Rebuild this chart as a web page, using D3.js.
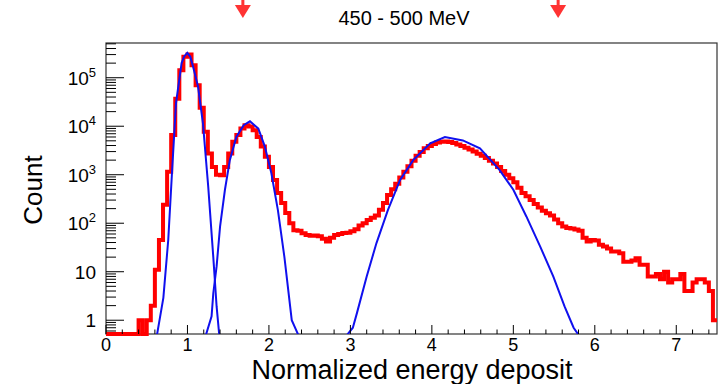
<!DOCTYPE html>
<html>
<head>
<meta charset="utf-8">
<script src="https://cdn.jsdelivr.net/npm/d3@7"></script>
<style>
  body { margin: 0; background: #fff; }
  text { font-family: "Liberation Sans", Arial, sans-serif; fill: #000; }
</style>
</head>
<body>
<script>
// histogram: 150 bins of width 0.05 starting at 0
const binStart = 0;
const binWidth = 0.05;
const counts = [
  0, 0, 0, 0, 0, 0, 0, 0, 1, 0,
  1, 2, 11, 45, 240, 1150, 6600, 37000, 142000, 270000,
  300000, 180000, 70000, 24000, 7700, 2750, 1450, 1000, 980, 1450,
  2750, 4800, 6600, 9000, 10500, 9900, 8300, 6000, 3800, 2350,
  1450, 780, 420, 260, 163, 100, 72, 70, 62, 57,
  55, 56, 54, 48, 42, 50, 57, 60, 63, 64,
  68, 75, 90, 100, 117, 130, 145, 190, 260, 380,
  500, 650, 880, 1150, 1500, 1950, 2450, 2950, 3500, 3900,
  4300, 4600, 4800, 4850, 4750, 4500, 4200, 3900, 3600, 3300,
  3000, 2700, 2450, 2200, 1950, 1700, 1450, 1200, 1000, 850,
  700, 540, 420, 360, 300, 250, 210, 180, 160, 145,
  120, 100, 86, 80, 78, 74, 70, 50, 42, 45,
  44, 36, 33, 30, 26, 26, 24, 16, 16, 17,
  19, 14, 14, 8, 8, 9, 7, 10, 6, 7,
  7, 9, 4, 4, 6, 7, 7, 6, 4, 1
];

// fitted peaks, points [x, count]
const fit1 = [
  [0.58, 0.1], [0.626, 0.5], [0.704, 2.9], [0.764, 45], [0.805, 780],
  [0.859, 29500], [0.928, 200000], [0.96, 275000], [0.998, 325000],
  [1.035, 270000], [1.07, 166000], [1.13, 65000], [1.19, 11500],
  [1.255, 560], [1.317, 20], [1.358, 1.9], [1.39, 0.5], [1.42, 0.1]
];
const fit2 = [
  [1.20, 0.1], [1.227, 0.5], [1.296, 1.2], [1.317, 3.6], [1.358, 13],
  [1.40, 85], [1.46, 490], [1.52, 2000], [1.60, 6000], [1.69, 10500],
  [1.767, 12600], [1.87, 8900], [1.95, 3800], [2.03, 1070], [2.11, 186],
  [2.19, 20], [2.28, 1.0], [2.36, 0.5], [2.40, 0.1]
];
const fit3 = [
  [2.93, 0.2], [2.96, 0.5], [3.03, 0.7], [3.08, 1.4], [3.20, 8],
  [3.32, 39], [3.46, 186], [3.61, 780], [3.77, 2000], [3.98, 4450],
  [4.16, 6000], [4.38, 5100], [4.59, 3500], [4.83, 1260], [5.00, 490],
  [5.16, 138], [5.33, 33], [5.49, 8], [5.63, 1.9], [5.74, 0.7],
  [5.80, 0.5], [5.83, 0.3]
];

const arrowX = [1.68, 5.55];
const xTicks = [0, 1, 2, 3, 4, 5, 6, 7];
const yTicks = [1, 10, 100, 1000, 10000, 100000];
const yTickLabels = [["1", ""], ["10", ""], ["10", "2"], ["10", "3"], ["10", "4"], ["10", "5"]];
const title = "450 - 500 MeV";
const xTitle = "Normalized energy deposit";
const yTitle = "Count";

const width = 720, height = 384;
const margin = { left: 106, top: 43, right: 3, bottom: 50 };
const yMin = 0.52, yMax = 5.2e5;

const svg = d3.select("body").append("svg")
  .attr("width", width)
  .attr("height", height);

const x = d3.scaleLinear().domain([0, 7.5]).range([margin.left, width - margin.right]);
const y = d3.scaleLog().domain([yMin, yMax]).range([height - margin.bottom, margin.top]);
const x0 = x.range()[0], x1 = x.range()[1];
const yb = y.range()[0], yt = y.range()[1];

svg.append("clipPath").attr("id", "plot")
  .append("rect")
  .attr("x", x0).attr("y", yt)
  .attr("width", x1 - x0).attr("height", yb - yt);

// frame
svg.append("rect")
  .attr("x", x0).attr("y", yt)
  .attr("width", x1 - x0).attr("height", yb - yt)
  .attr("fill", "none")
  .attr("stroke", "#333")
  .attr("stroke-width", 1.2);

// histogram as a step line
const steps = [];
counts.forEach((c, i) => {
  const lo = binStart + i * binWidth;
  const v = Math.max(c, yMin);
  steps.push([lo, v], [lo + binWidth, v]);
});
const line = d3.line().x(d => x(d[0])).y(d => y(Math.max(d[1], yMin)));

svg.append("path")
  .attr("d", line(steps))
  .attr("fill", "none")
  .attr("stroke", "#ff0000")
  .attr("stroke-width", 4)
  .attr("stroke-linejoin", "miter");

// fits
[fit1, fit2, fit3].forEach(f => {
  svg.append("path")
    .attr("clip-path", "url(#plot)")
    .attr("d", d3.line().x(d => x(d[0])).y(d => y(d[1]))(f))
    .attr("fill", "none")
    .attr("stroke", "#1010ee")
    .attr("stroke-width", 2);
});

// x axis ticks (pointing up into the frame)
const axis = svg.append("g").attr("stroke", "#000").attr("stroke-width", 1);
d3.range(0, 7.5 + 1e-9, 0.2).forEach(v => {
  const major = Math.abs(v - Math.round(v)) < 1e-6;
  axis.append("line")
    .attr("x1", x(v)).attr("x2", x(v))
    .attr("y1", yb).attr("y2", yb - (major ? 9 : 4.5));
});
svg.append("g").selectAll("text").data(xTicks).join("text")
  .attr("x", d => x(d))
  .attr("y", yb + 17)
  .attr("text-anchor", "middle")
  .attr("font-size", 18)
  .text(d => d);

// y axis ticks, log decades
for (let d = -1; d <= 5; d++) {
  for (let m = 1; m <= 9; m++) {
    const v = m * Math.pow(10, d);
    if (v < yMin || v > yMax) continue;
    axis.append("line")
      .attr("x1", x0).attr("x2", x0 + (m === 1 ? 18 : 10))
      .attr("y1", y(v)).attr("y2", y(v));
  }
}
const yl = svg.append("g").selectAll("text").data(yTicks).join("text")
  .attr("x", 96)
  .attr("y", d => y(d) + 7)
  .attr("text-anchor", "end")
  .attr("font-size", 19);
yl.each(function(d, i) {
  const t = d3.select(this);
  const lab = yTickLabels[i];
  t.append("tspan").text(lab[0]);
  if (lab[1]) t.append("tspan").attr("dy", -8).attr("font-size", 13).text(lab[1]);
});

// titles
svg.append("text")
  .attr("x", 404).attr("y", 25)
  .attr("text-anchor", "middle")
  .attr("font-size", 20)
  .text(title);
svg.append("text")
  .attr("x", 412).attr("y", 379)
  .attr("text-anchor", "middle")
  .attr("font-size", 27)
  .text(xTitle);
svg.append("text")
  .attr("transform", "translate(42,190) rotate(-90)")
  .attr("text-anchor", "middle")
  .attr("font-size", 26)
  .text(yTitle);

// red markers above the frame
arrowX.forEach(v => {
  const g = svg.append("g").attr("fill", "#ff3333");
  g.append("rect").attr("x", x(v) - 1.5).attr("y", 0).attr("width", 3).attr("height", 8);
  g.append("path").attr("d", `M${x(v) - 8},5 L${x(v) + 8},5 L${x(v)},18 Z`);
});
</script>
</body>
</html>
